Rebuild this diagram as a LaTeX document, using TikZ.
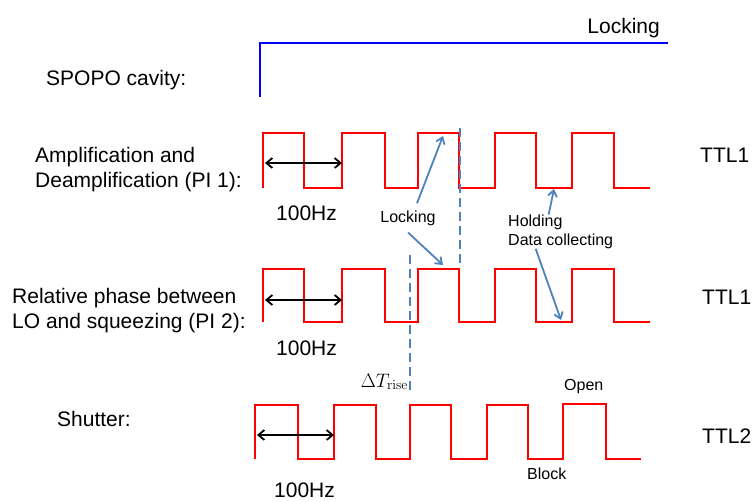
\documentclass[tikz,border=0pt]{standalone}
\usepackage{fix-cm}
\usepackage[no-math]{fontspec}
\setmainfont{Liberation Sans}
\usepackage{xcolor}
\usepackage{tikz}
\usetikzlibrary{arrows.meta}
\definecolor{pfeilblau}{RGB}{79,129,189}
\newcommand{\Periodenpfeil}[3]{\draw[<->,pfeil] (#1,#3) -- (#2,#3);}

\begin{document}
\begin{tikzpicture}[x=1pt,y=-1pt,>={Straight Barb[length=6pt,width=10pt]},
  signal/.style={red,line width=2.4pt},
  pfeil/.style={black,line width=1.8pt},
  zeiger/.style={pfeilblau,line width=1.8pt,-{Straight Barb[length=6pt,width=9pt]}},
  strichlinie/.style={pfeilblau,line width=2pt,dash pattern=on 9pt off 5pt},
  gross/.style={font=\fontsize{21}{25}\selectfont,inner sep=0pt},
  klein/.style={font=\fontsize{16}{19}\selectfont,inner sep=0pt}]
  \useasboundingbox (0,0) rectangle (752,501);
  % SPOPO-Kavitaet: Lock-Signal
  \draw[blue,line width=2.4pt] (260,97) -- (260,43) -- (668,43);
  \node[gross,anchor=base west] (spopo) at (46,85) {SPOPO cavity:};
  \node[gross,anchor=base east] (lockoben) at (660,33) {Locking};
  % PI 1
  \node[gross,anchor=north west,align=left] (pieins) at (35,147)
    {Amplification and\\Deamplification (PI 1):};
  \draw[signal] (263,188) -- (263,133) -- (304,133) -- (304,188) -- (342,188)
    -- (342,133) -- (385,133) -- (385,188) -- (418,188) -- (418,133)
    -- (459,133) -- (459,188) -- (495,188) -- (495,133) -- (536,133)
    -- (536,188) -- (572,188) -- (572,133) -- (614,133) -- (614,188) -- (650,188);
  \Periodenpfeil{265}{342}{163}
  \node[gross,anchor=base west] (freqeins) at (276,220) {100Hz};
  \node[gross,anchor=base west] (ttleins) at (700,162) {TTL1};
  % PI 2
  \node[gross,anchor=north west,align=left] (pizwei) at (12,288)
    {Relative phase between\\LO and squeezing (PI 2):};
  \draw[signal] (263,322) -- (263,269) -- (304,269) -- (304,322) -- (342,322)
    -- (342,269) -- (385,269) -- (385,322) -- (418,322) -- (418,269)
    -- (459,269) -- (459,322) -- (495,322) -- (495,269) -- (536,269)
    -- (536,322) -- (572,322) -- (572,269) -- (614,269) -- (614,322) -- (650,322);
  \Periodenpfeil{265}{342}{300}
  \node[gross,anchor=base west] (freqzwei) at (276,355) {100Hz};
  \node[gross,anchor=base west] (ttlzwei) at (702,304) {TTL1};
  % Shutter
  \node[gross,anchor=base west] (shutter) at (57,426) {Shutter:};
  \draw[signal] (255,459) -- (255,405) -- (298,405) -- (298,459) -- (334,459)
    -- (334,405) -- (376,405) -- (376,459) -- (410,459) -- (410,405)
    -- (451,405) -- (451,459) -- (487,459) -- (487,405) -- (528,405)
    -- (528,459) -- (563,459) -- (563,404) -- (606,404) -- (606,459) -- (641,459);
  \Periodenpfeil{257}{334}{435}
  \node[gross,anchor=base west] (freqdrei) at (274,497) {100Hz};
  \node[gross,anchor=base west] (ttldrei) at (702,443) {TTL2};
  \node[klein,anchor=base west] (offen) at (564,390) {Open};
  \node[klein,anchor=base west] (block) at (527,479) {Block};
  % Verzoegerung
  \draw[strichlinie] (460,128) -- (460,267);
  \draw[strichlinie] (410,255) -- (410,393);
  \node[anchor=base east,inner sep=0pt,font=\fontsize{19.5}{22}\selectfont]
    (trise) at (408,387) {$\Delta T_{\mathrm{rise}}$};
  % Beschriftungen mit Zeigern
  \node[klein,inner sep=7pt,anchor=base] (lock) at (408,222) {Locking};
  \node[klein,anchor=north west,align=left] (hold) at (508,214.5)
    {Holding\\Data collecting};
  \coordinate (hocheins) at (443,136);
  \coordinate (hochzwei) at (443,265);
  \coordinate (tiefeins) at (554,189);
  \coordinate (tiefzwei) at (561,320);
  \draw[zeiger] ([xshift=9pt]lock.north) -- (hocheins);
  \draw[zeiger] (lock.south) -- (hochzwei);
  \draw[zeiger] ([xshift=-12pt]hold.north) -- (tiefeins);
  \draw[zeiger] ([xshift=-25pt]hold.south) -- (tiefzwei);
\end{tikzpicture}
\end{document}
